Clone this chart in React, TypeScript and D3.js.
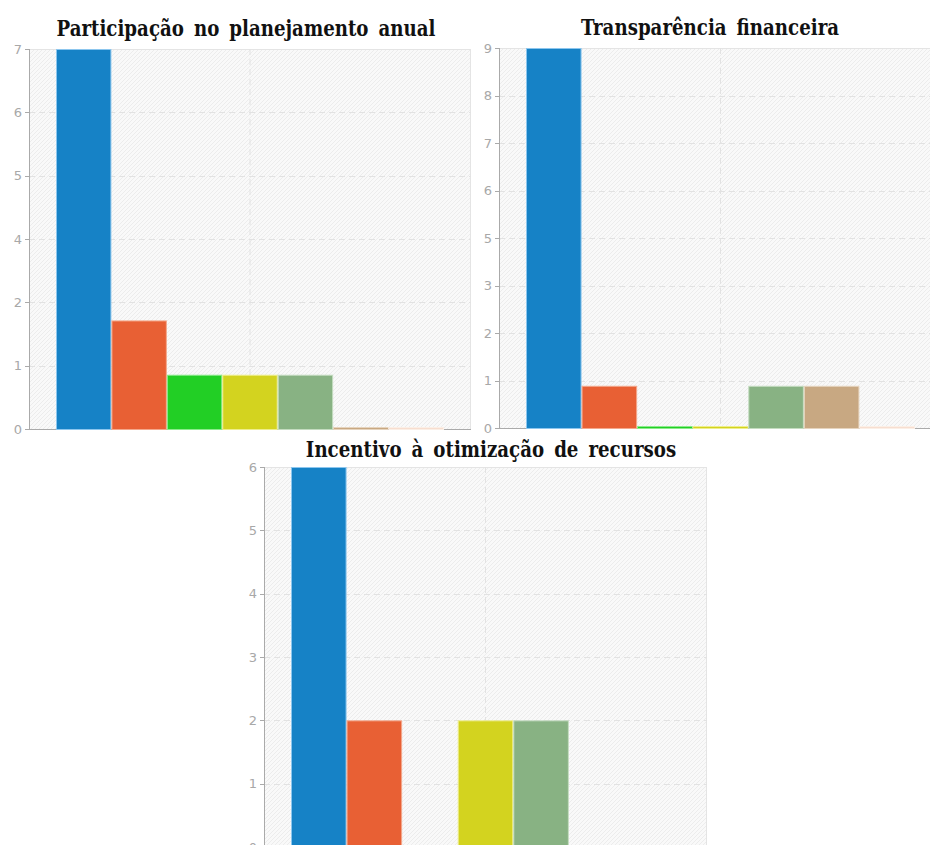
import React from "react";
import * as d3 from "d3";

const categories = ["Opção 1", "Opção 2", "Opção 3", "Opção 4", "Opção 5", "Opção 6", "Opção 7"];
const barColors = ["#1682C6", "#E86034", "#22CF25", "#D3D31F", "#88B283", "#C8A882", "#F7DED0"];
const barStrokes = ["#8CC6EE", "#F4A88C", "#8CEB8C", "#EEEE8C", "#C4DCC0", "#E6D4BE", "#FBEFE6"];

const titles = ["Participação no planejamento anual", "Transparência financeira", "Incentivo à otimização de recursos"];
const planejamento = [7, 2, 1, 1, 1, 0, 0];
const transparencia = [9, 1, 0, 0, 1, 1, 0];
const incentivo = [6, 2, 0, 2, 2, 0, 0];
const ticksPlanejamento = ["0", "1", "2", "4", "5", "6", "7"];
const ticksTransparencia = ["0", "1", "2", "3", "5", "6", "7", "8", "9"];
const ticksIncentivo = ["0", "1", "2", "3", "4", "5", "6"];

const seriesList = [planejamento, transparencia, incentivo];
const tickList = [ticksPlanejamento, ticksTransparencia, ticksIncentivo];

const layouts = [
  { x0: 29, y0: 49, w: 442, h: 380, tx: 246, ty: 36 },
  { x0: 499, y0: 48, w: 443, h: 380, tx: 710, ty: 35 },
  { x0: 264, y0: 467, w: 443, h: 380, tx: 491, ty: 457 },
];

function Chart({ idx }: { idx: number }) {
  const L = layouts[idx];
  const values = seriesList[idx];
  const tickLabels = tickList[idx];
  const maxV = d3.max(values) as number;
  const y = d3.scaleLinear().domain([0, maxV]).range([L.y0 + L.h, L.y0]);
  const x = d3.scaleBand().domain(categories).range([L.x0 + 27, L.x0 + L.w - 27]).padding(0);
  const n = tickLabels.length - 1;
  const tickVals = d3.range(n + 1).map((i) => (i * maxV) / n);
  const bottom = L.y0 + L.h;
  return (
    <g>
      <text
        x={0}
        y={0}
        transform={`translate(${L.tx},${L.ty}) scale(0.92,1)`}
        textAnchor="middle"
        style={{ fontFamily: "'DejaVu Serif Condensed', 'DejaVu Serif', serif", fontStretch: "condensed", fontWeight: "bold", fontSize: 22, wordSpacing: 4 }}
        fill="#111"
      >
        {titles[idx]}
      </text>
      <rect x={L.x0} y={L.y0} width={L.w} height={L.h} fill="url(#hatch)" />
      <line x1={L.x0} x2={L.x0 + L.w} y1={L.y0 + 0.5} y2={L.y0 + 0.5} stroke="#e4e4e4" />
      <line x1={L.x0 + L.w - 0.5} x2={L.x0 + L.w - 0.5} y1={L.y0} y2={bottom} stroke="#e4e4e4" />
      {tickVals.map((t, i) =>
        i === 0 || i === n ? null : (
          <line key={"g" + i} x1={L.x0} x2={L.x0 + L.w} y1={Math.round(y(t)) + 0.5} y2={Math.round(y(t)) + 0.5} stroke="#e2e2e2" strokeDasharray="6,4" />
        )
      )}
      <line x1={L.x0 + L.w / 2} x2={L.x0 + L.w / 2} y1={L.y0} y2={bottom} stroke="#e2e2e2" strokeDasharray="6,4" />
      <line x1={L.x0} x2={L.x0 + L.w} y1={bottom + 0.5} y2={bottom + 0.5} stroke="#aaa" />
      {values.map((v, i) => {
        const bx = x(categories[i]) as number;
        const bw = x.bandwidth();
        const top = v > 0 ? y(v) : bottom - 2;
        return (
          <rect
            key={"b" + i}
            x={bx + 0.5}
            y={top + 0.5}
            width={bw - 1}
            height={Math.max(bottom - top, 1)}
            fill={barColors[i]}
            stroke={barStrokes[i]}
            strokeWidth={1}
          />
        );
      })}
      <line x1={L.x0 + 0.5} x2={L.x0 + 0.5} y1={L.y0} y2={bottom + 1} stroke="#aaa" />
      {tickVals.map((t, i) => (
        <g key={"t" + i}>
          <line x1={L.x0 - 4} x2={L.x0} y1={Math.round(y(t)) + 0.5} y2={Math.round(y(t)) + 0.5} stroke="#aaa" />
          <text
            x={L.x0 - 7}
            y={y(t)}
            dy="0.36em"
            textAnchor="end"
            style={{ fontFamily: "'DejaVu Sans', sans-serif", fontSize: 13 }}
            fill="#a8a8a8"
          >
            {tickLabels[i]}
          </text>
        </g>
      ))}
    </g>
  );
}

export default function App() {
  return (
    <svg
      width={930}
      height={845}
      style={{ position: "absolute", left: 0, top: 0, background: "#fff" }}
    >
      <defs>
        <pattern id="hatch" patternUnits="userSpaceOnUse" width={4} height={4}>
          <rect width={4} height={4} fill="#f9f9f9" />
          <path d="M-1,1 L1,-1 M0,4 L4,0 M3,5 L5,3" stroke="#ececec" strokeWidth={1} />
        </pattern>
      </defs>
      {[0, 1, 2].map((i) => (
        <Chart key={i} idx={i} />
      ))}
    </svg>
  );
}
